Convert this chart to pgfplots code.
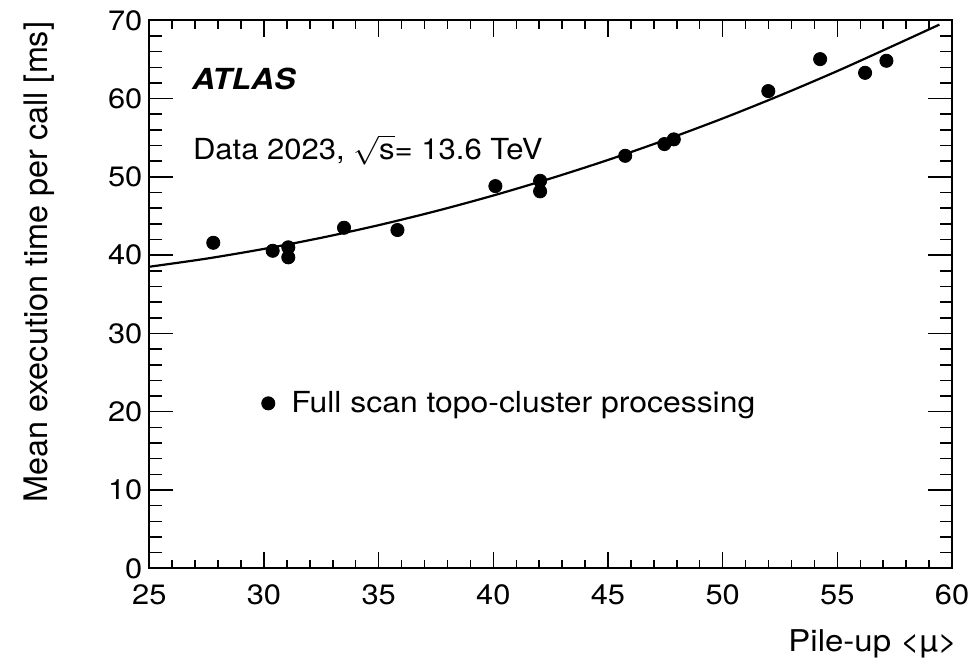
\documentclass[border=0pt]{standalone}
\usepackage{fontspec}
\setmainfont{TeX Gyre Heros}
\usepackage{pgfplots}
\pgfplotsset{compat=1.18}
\newcommand\fs[1]{\fontsize{#1}{#1}\selectfont}

\begin{document}
\begin{tikzpicture}
\useasboundingbox (0,0) rectangle (487pt,331pt);
\pgfplotsset{
  atlas/.style={
    scale only axis, width=401.35pt, height=274pt,
    at={(74.65pt,46.85pt)}, anchor=south west,
    xmin=25, xmax=60, ymin=0, ymax=70,
    tick align=inside,
    axis line style={line width=0.85pt},
    every tick/.style={black, line width=0.75pt},
    /pgf/number format/assume math mode=true,
  }
}
% x ticks, frame, data
\begin{axis}[atlas,
  xtick distance=5, minor x tick num=4, ytick=\empty,
  major tick length=8.3pt, minor tick length=4.2pt,
  xticklabel style={anchor=base, yshift=-18pt, font=\fs{14}, xscale=1.1},
  xlabel={Pile-up <µ>},
  every axis x label/.style={at={(rel axis cs:1.007,-0.152)}, anchor=base east, inner sep=0pt, font=\fs{15}, xscale=1.1},
  legend style={at={(rel axis cs:0.139,0.301)}, anchor=west, draw=none, fill=none,
    inner sep=0pt, column sep=8pt, font=\fs{14.5}, nodes={inner sep=0pt, xscale=1.1}},
  legend cell align=left,
  legend image code/.code={\fill[black] (0pt,0pt) circle (3.3pt);},
]
\addplot[black, line width=1.1pt, smooth, forget plot] coordinates {
  (25,38.52) (27.5,39.56) (30,40.80) (32.5,42.22) (35,43.83) (37.5,45.63)
  (40,47.62) (42.5,49.80) (45,52.16) (47.5,54.72) (50,57.46) (52.5,60.40)
  (55,63.52) (57.5,66.83) (59.45,69.45)
};
\addplot[only marks, mark=*, mark size=3.3pt, black] coordinates {
  (27.79,41.58) (30.38,40.56) (31.06,41.00) (31.06,39.72) (33.49,43.50)
  (35.82,43.21) (40.09,48.82) (42.04,49.50) (42.04,48.15) (45.75,52.69)
  (47.46,54.19) (47.87,54.79) (51.99,60.96) (54.25,65.04) (56.21,63.29)
  (57.14,64.83)
};
\addlegendentry{Full scan topo-cluster processing}
\end{axis}
% y ticks and label
\begin{axis}[atlas,
  ytick distance=10, minor y tick num=4, xtick=\empty,
  major tick length=12pt, minor tick length=6.2pt,
  axis line style={draw=none},
  yticklabel style={anchor=east, inner sep=0pt, xshift=-3.3pt, font=\fs{14}, xscale=1.1},
  ylabel={Mean execution time per call [ms]},
  every axis y label/.style={at={(rel axis cs:-0.127,0.998)}, rotate=90, anchor=base east, inner sep=0pt, font=\fs{16.2}},
]
\end{axis}
\node[anchor=base west, font=\fs{14.5}\bfseries\itshape, xscale=1.1, inner sep=0pt] at (95.8pt,286pt) {ATLAS};
\node[anchor=base west, font=\fs{14.5}, xscale=1.07, inner sep=0pt] at (96.3pt,251.3pt) {Data 2023, \ensuremath{\sqrt{\hbox{s}}}= 13.6 TeV};
\end{tikzpicture}
\end{document}
